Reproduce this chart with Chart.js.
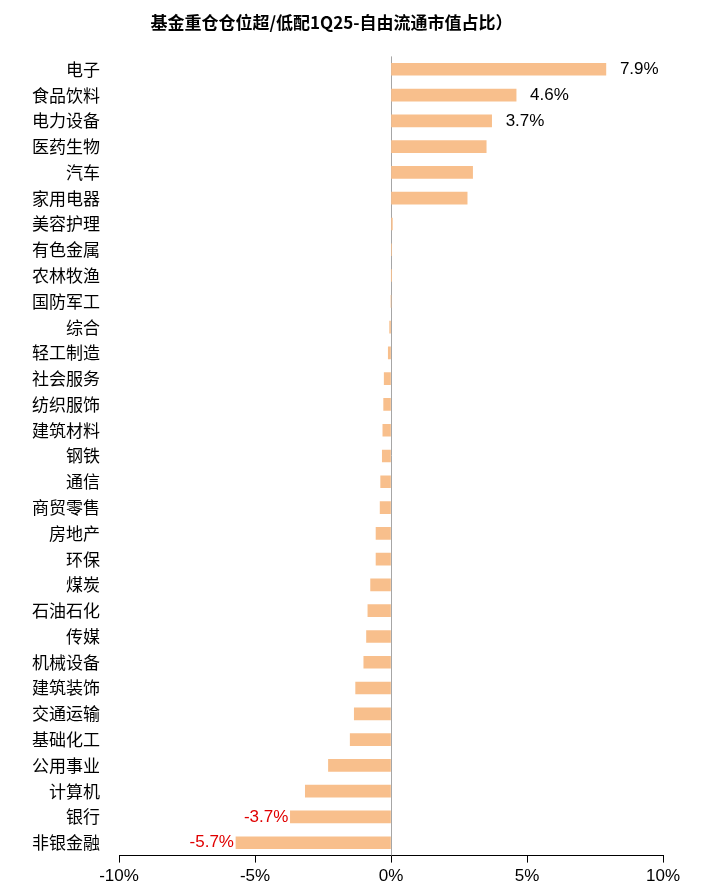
<!DOCTYPE html>
<html>
<head>
<meta charset="utf-8">
<script src="https://cdn.jsdelivr.net/npm/chart.js@4"></script>
<style>
  body { margin: 0; background: #fff; }
  #wrap { width: 702px; height: 895px; position: relative; }
</style>
</head>
<body>
<div id="wrap"><canvas id="chart"></canvas></div>
<script>
const categories = ["电子","食品饮料","电力设备","医药生物","汽车","家用电器","美容护理","有色金属","农林牧渔","国防军工","综合","轻工制造","社会服务","纺织服饰","建筑材料","钢铁","通信","商贸零售","房地产","环保","煤炭","石油石化","传媒","机械设备","建筑装饰","交通运输","基础化工","公用事业","计算机","银行","非银金融"];
const values = [7.9,4.6,3.7,3.5,3.0,2.8,0.05,0.02,0.01,0,-0.05,-0.1,-0.25,-0.27,-0.3,-0.32,-0.38,-0.4,-0.55,-0.55,-0.75,-0.85,-0.9,-1.0,-1.3,-1.35,-1.5,-2.3,-3.15,-3.7,-5.7];
const labelled = { "电子": "7.9%", "食品饮料": "4.6%", "电力设备": "3.7%", "银行": "-3.7%", "非银金融": "-5.7%" };
const xTicks = [-10, -5, 0, 5, 10];

const FONT = "'Liberation Sans', 'Noto Sans CJK SC', sans-serif";

const valueLabels = {
    id: "valueLabels",
    afterDatasetsDraw(chart) {
        const ctx = chart.ctx;
        const meta = chart.getDatasetMeta(0);
        ctx.save();
        ctx.font = "17px " + FONT;
        ctx.textBaseline = "middle";
        meta.data.forEach((bar, i) => {
            const txt = labelled[categories[i]];
            if (!txt) return;
            if (values[i] >= 0) {
                ctx.fillStyle = "#000";
                ctx.textAlign = "left";
                ctx.fillText(txt, bar.x + 14, bar.y);
            } else {
                ctx.fillStyle = "#e00000";
                ctx.textAlign = "right";
                ctx.fillText(txt, bar.x - 2, bar.y);
            }
        });
        ctx.restore();
    },
};

new Chart(document.getElementById("chart"), {
    type: "bar",
    data: {
        labels: categories,
        datasets: [{ data: values, backgroundColor: "#f8bf8c", barThickness: 12 }],
    },
    options: {
        indexAxis: "y",
        responsive: true,
        maintainAspectRatio: false,
        animation: false,
        layout: { padding: { left: 0, right: 39, top: 8, bottom: 4 } },
        plugins: {
            legend: { display: false },
            tooltip: { enabled: false },
            title: {
                display: true,
                text: "基金重仓仓位超/低配1Q25-自由流通市值占比）",
                font: { family: "'Noto Sans CJK SC', sans-serif", size: 17, weight: "bold" },
                color: "#000",
                padding: { top: 4, bottom: 24 },
            },
        },
        scales: {
            x: {
                min: -10, max: 10,
                afterBuildTicks: s => { s.ticks = xTicks.map(v => ({ value: v })); },
                ticks: { callback: v => v + "%", color: "#000", font: { family: FONT, size: 17 }, padding: 4 },
                grid: {
                    drawOnChartArea: true,
                    color: c => (c.tick && c.tick.value === 0 ? "#a6a6a6" : "rgba(0,0,0,0)"),
                    tickColor: "#000",
                    tickLength: 7,
                },
                border: { color: "#000" },
            },
            y: {
                afterFit: s => { s.width = 119; },
                ticks: { color: "#000", font: { family: "'Noto Sans CJK SC', sans-serif", size: 17 }, padding: 19, autoSkip: false },
                grid: { display: false, drawTicks: false },
                border: { display: false },
            },
        },
    },
    plugins: [valueLabels],
});
</script>
</body>
</html>
